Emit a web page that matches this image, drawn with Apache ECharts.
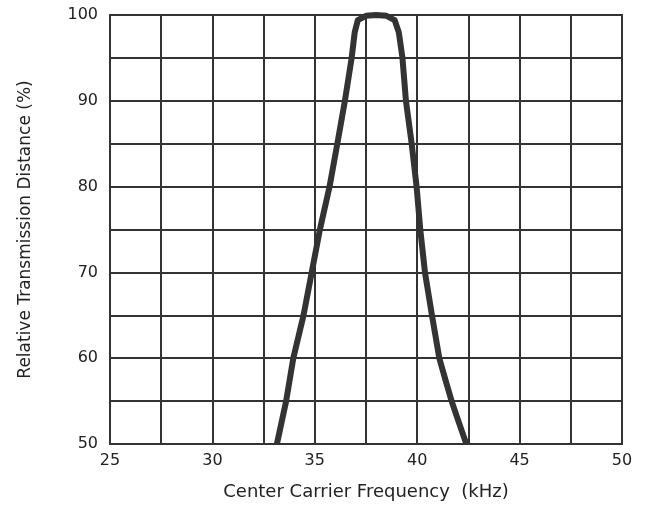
<!DOCTYPE html>
<html>
<head>
<meta charset="utf-8">
<script src="https://cdn.jsdelivr.net/npm/echarts@6/dist/echarts.min.js"></script>
<style>
html,body{margin:0;padding:0;background:#fff;}
#chart{width:647px;height:509px;}
</style>
</head>
<body>
<div id="chart"></div>
<script>
var freqKHz = [33.15, 33.6, 33.95, 34.45, 34.85, 35.25, 35.72, 36.1, 36.47, 36.8, 36.95, 37.1, 37.5, 38.0, 38.5, 38.9, 39.1, 39.28, 39.45, 39.73, 39.97, 40.15, 40.38, 40.72, 41.08, 41.4, 41.68, 42.05, 42.4];
var relDistance = [50, 55, 60, 65, 70, 75, 80, 85, 90, 95, 98, 99.4, 99.9, 100, 99.9, 99.4, 98, 95, 90, 85, 80, 75, 70, 65, 60, 57.3, 55, 52.4, 50];
var xTickLabels = [25, 30, 35, 40, 45, 50];
var yTickLabels = [50, 60, 70, 80, 90, 100];

var data = freqKHz.map(function (f, i) { return [f, relDistance[i]]; });
var font = 'DejaVu Sans';
var chart = echarts.init(document.getElementById('chart'));
chart.setOption({
  animation: false,
  backgroundColor: '#fff',
  grid: { left: 110, right: 25, top: 15, bottom: 65, show: true, borderColor: '#333', borderWidth: 2 },
  xAxis: {
    type: 'value', min: 25, max: 50, interval: 2.5,
    name: 'Center Carrier Frequency  (kHz)', nameLocation: 'middle', nameGap: 39,
    nameTextStyle: { fontFamily: font, fontSize: 18, color: '#222' },
    axisLine: { lineStyle: { color: '#333', width: 2 } },
    axisTick: { show: false },
    axisLabel: {
      fontFamily: font, fontSize: 16, color: '#222', margin: 9,
      formatter: function (v) { return xTickLabels.indexOf(v) >= 0 ? String(v) : ''; }
    },
    splitLine: { show: true, lineStyle: { color: '#333', width: 2 } }
  },
  yAxis: {
    type: 'value', min: 50, max: 100, interval: 5,
    name: 'Relative Transmission Distance (%)', nameLocation: 'middle', nameGap: 76,
    nameTextStyle: { fontFamily: font, fontSize: 17, color: '#222' },
    axisLine: { show: true, lineStyle: { color: '#333', width: 2 } },
    axisTick: { show: false },
    axisLabel: {
      fontFamily: font, fontSize: 16, color: '#222', margin: 12,
      formatter: function (v) { return yTickLabels.indexOf(v) >= 0 ? String(v) : ''; }
    },
    splitLine: { show: true, lineStyle: { color: '#333', width: 2 } }
  },
  series: [{
    type: 'line', data: data, smooth: false, showSymbol: false,
    lineStyle: { color: '#333', width: 6, join: 'round', cap: 'butt' }
  }]
});
</script>
</body>
</html>
